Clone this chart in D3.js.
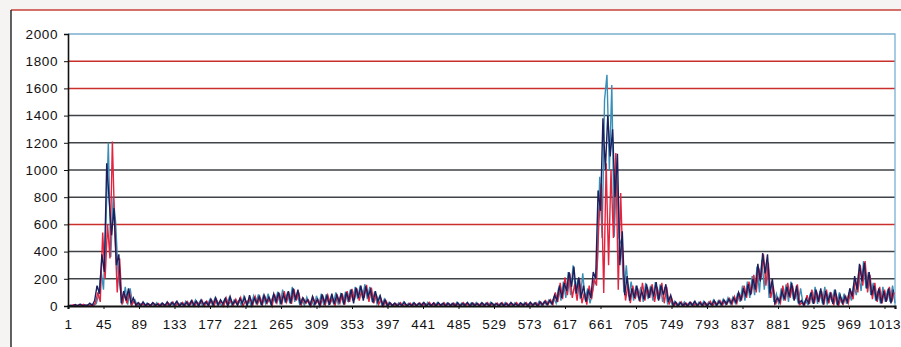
<!DOCTYPE html>
<html>
<head>
<meta charset="utf-8">
<script src="https://cdn.jsdelivr.net/npm/d3@7"></script>
<style>
  html, body { margin: 0; padding: 0; background: #f6f4f2; }
  svg { display: block; }
  .tick text { font-family: "Liberation Sans", Arial, sans-serif; }
</style>
</head>
<body>
<svg id="chart" width="901" height="347"></svg>
<script>
// Category axis: samples numbered 1..1026
const categoryCount = 1026;
const xTickLabels = [1, 45, 89, 133, 177, 221, 265, 309, 353, 397, 441, 485, 529, 573,
                     617, 661, 705, 749, 793, 837, 881, 925, 969, 1013];
const yTickValues = [0, 200, 400, 600, 800, 1000, 1200, 1400, 1600, 1800, 2000];

// Each series holds every third sample; first category of each series
const seriesFirstCategory = [1, 2, 3];
const seriesStep = 3;

const navySeries = [
  0, 6, 0, 10, 2, 14, 0, 8, 3, 20,
  5, 40, 150, 90, 380, 250, 1050, 780, 520, 720,
  300, 380, 20, 110, 40, 130, 20, 60, 5, 25,
  0, 30, 4, 18, 0, 25, 6, 14, 0, 22,
  3, 30, 0, 25, 8, 35, 0, 20, 5, 28,
  2, 40, 6, 35, 0, 45, 10, 30, 4, 50,
  8, 60, 5, 45, 15, 55, 0, 70, 12, 40,
  5, 55, 18, 65, 0, 80, 10, 60, 20, 70,
  5, 80, 25, 65, 10, 90, 30, 100, 15, 85,
  35, 110, 20, 130, 45, 120, 10, 60, 25, 45,
  5, 70, 15, 50, 0, 85, 20, 75, 8, 90,
  15, 80, 30, 95, 10, 100, 40, 120, 20, 135,
  60, 150, 40, 145, 70, 120, 25, 110, 30, 75,
  5, 45, 0, 25, 3, 22, 0, 18, 5, 28,
  0, 16, 4, 24, 0, 20, 6, 26, 0, 19,
  3, 23, 0, 25, 5, 20, 0, 22, 4, 18,
  0, 24, 2, 19, 6, 27, 0, 21, 3, 18,
  0, 25, 4, 20, 0, 23, 5, 18, 0, 22,
  4, 19, 0, 26, 3, 17, 0, 24, 5, 20,
  0, 28, 6, 22, 0, 30, 8, 35, 10, 40,
  15, 80, 40, 150, 60, 170, 110, 250, 140, 290,
  90, 210, 60, 150, 30, 120, 60, 250, 200, 850,
  700, 1380, 1000, 1400, 1100, 1300, 800, 1120, 300, 550,
  80, 220, 40, 130, 60, 150, 40, 110, 50, 160,
  60, 140, 70, 175, 40, 150, 80, 160, 30, 80,
  5, 30, 0, 25, 4, 20, 0, 28, 6, 35,
  0, 25, 5, 30, 0, 22, 8, 40, 3, 35,
  10, 45, 15, 50, 20, 60, 25, 100, 40, 130,
  70, 160, 80, 200, 120, 310, 180, 390, 240, 380,
  90, 200, 20, 60, 30, 110, 50, 140, 70, 170,
  40, 150, 20, 40, 5, 55, 20, 100, 15, 120,
  30, 130, 10, 110, 35, 90, 15, 120, 5, 80,
  20, 70, 30, 130, 70, 220, 120, 310, 180, 320,
  130, 250, 80, 150, 40, 130, 20, 110, 30, 130,
  20, 120
];

const redSeries = [
  0, 4, 10, 0, 8, 2, 12, 0, 9, 4,
  0, 25, 100, 30, 540, 200, 600, 350, 1210, 560,
  100, 350, 10, 90, 20, 110, 5, 40, 0, 22,
  4, 18, 0, 16, 5, 22, 0, 18, 2, 16,
  0, 24, 6, 30, 0, 22, 4, 26, 0, 32,
  5, 38, 0, 28, 10, 42, 0, 35, 8, 45,
  0, 48, 12, 35, 0, 60, 10, 42, 5, 50,
  15, 62, 0, 40, 20, 58, 5, 70, 15, 65,
  10, 70, 20, 55, 0, 85, 25, 95, 10, 110,
  30, 90, 15, 125, 40, 100, 5, 55, 20, 45,
  0, 60, 15, 45, 5, 70, 10, 80, 20, 55,
  5, 75, 20, 90, 10, 110, 30, 125, 45, 130,
  40, 120, 60, 155, 30, 135, 20, 85, 10, 50,
  0, 40, 5, 20, 0, 18, 3, 25, 0, 16,
  2, 22, 0, 18, 4, 24, 0, 20, 3, 26,
  0, 22, 4, 15, 0, 25, 2, 18, 0, 21,
  3, 16, 0, 25, 4, 17, 0, 22, 5, 19,
  0, 20, 3, 24, 0, 18, 4, 22, 0, 25,
  2, 22, 0, 20, 4, 25, 0, 18, 3, 24,
  0, 20, 5, 25, 0, 30, 8, 40, 10, 45,
  10, 100, 30, 170, 50, 210, 80, 240, 60, 160,
  40, 200, 20, 100, 10, 150, 50, 200, 150, 620,
  900, 95, 1050, 300, 1000, 500, 1125, 120, 830, 250,
  40, 160, 20, 150, 50, 130, 30, 170, 40, 140,
  60, 160, 30, 140, 50, 170, 20, 140, 10, 60,
  0, 25, 3, 30, 0, 22, 5, 26, 0, 20,
  4, 30, 0, 24, 6, 35, 0, 30, 10, 40,
  5, 35, 15, 55, 10, 70, 20, 90, 50, 150,
  60, 180, 90, 230, 100, 280, 200, 380, 150, 320,
  60, 150, 10, 60, 20, 150, 40, 170, 60, 150,
  50, 160, 10, 25, 5, 80, 15, 120, 20, 100,
  40, 110, 10, 120, 20, 100, 5, 90, 0, 60,
  15, 70, 20, 110, 50, 200, 100, 300, 150, 330,
  100, 230, 50, 170, 30, 140, 20, 120, 40, 140,
  30, 100
];

const tealSeries = [
  2, 0, 8, 3, 0, 10, 2, 7, 0, 12,
  3, 18, 80, 260, 120, 600, 1200, 360, 800, 620,
  250, 120, 20, 140, 10, 130, 20, 45, 0, 12,
  18, 0, 22, 4, 16, 0, 25, 3, 20, 0,
  12, 2, 26, 0, 30, 5, 24, 0, 35, 4,
  30, 0, 45, 8, 38, 0, 28, 10, 50, 5,
  55, 10, 25, 0, 50, 15, 65, 5, 45, 20,
  40, 5, 70, 15, 50, 0, 75, 20, 85, 10,
  75, 15, 90, 20, 70, 30, 105, 10, 120, 25,
  100, 20, 140, 30, 90, 15, 50, 5, 65, 10,
  40, 0, 75, 10, 90, 5, 85, 15, 65, 20,
  100, 10, 85, 25, 105, 30, 120, 40, 140, 50,
  150, 60, 160, 50, 140, 30, 105, 15, 70, 5,
  50, 0, 28, 3, 15, 0, 24, 2, 30, 0,
  20, 3, 25, 0, 18, 4, 22, 0, 28, 2,
  16, 0, 26, 3, 18, 0, 24, 4, 20, 0,
  27, 2, 22, 0, 18, 5, 24, 0, 26, 3,
  20, 0, 22, 4, 28, 0, 20, 3, 18, 0,
  26, 3, 18, 0, 24, 2, 20, 0, 26, 4,
  20, 0, 24, 5, 35, 3, 30, 10, 45, 15,
  60, 20, 130, 40, 180, 60, 250, 80, 300, 100,
  200, 50, 240, 40, 130, 20, 100, 200, 300, 950,
  500, 1515, 1700, 1000, 1625, 510, 1000, 500, 450, 100,
  300, 70, 180, 40, 150, 60, 140, 30, 170, 50,
  150, 40, 175, 50, 160, 30, 140, 20, 60, 5,
  35, 0, 28, 4, 30, 0, 25, 3, 30, 0,
  28, 5, 35, 0, 30, 6, 45, 2, 40, 8,
  50, 10, 60, 15, 65, 20, 95, 30, 150, 40,
  180, 60, 220, 80, 290, 100, 340, 120, 330, 60,
  180, 30, 90, 10, 130, 40, 160, 30, 180, 50,
  110, 20, 130, 15, 40, 10, 90, 20, 140, 15,
  110, 20, 140, 10, 100, 30, 120, 10, 100, 20,
  90, 15, 100, 40, 160, 80, 240, 110, 330, 130,
  250, 80, 170, 40, 110, 20, 140, 30, 120, 30,
  150, 20
];

const svg = d3.select("#chart");

// Outer chart frame
svg.append("rect")
  .attr("x", 11).attr("y", 10).attr("width", 900).attr("height", 400)
  .attr("fill", "#ffffff");
svg.append("line")
  .attr("x1", 11).attr("x2", 901).attr("y1", 10).attr("y2", 10)
  .attr("stroke", "#c8413a").attr("stroke-width", 1.6);
svg.append("line")
  .attr("x1", 11).attr("x2", 11).attr("y1", 10).attr("y2", 347)
  .attr("stroke", "#202020").attr("stroke-width", 1.4);

const plot = { left: 68, right: 895, top: 34, bottom: 306 };

const x = d3.scaleLinear().domain([1, categoryCount]).range([plot.left, plot.right]);
const y = d3.scaleLinear().domain([0, 2000]).range([plot.bottom, plot.top]);

// Horizontal gridlines
const redGrid = new Set([600, 1600, 1800]);
svg.append("g")
  .selectAll("line")
  .data(yTickValues.filter(v => v > 0 && v < 2000))
  .join("line")
  .attr("x1", plot.left).attr("x2", plot.right)
  .attr("y1", d => y(d)).attr("y2", d => y(d))
  .attr("stroke", d => redGrid.has(d) ? "#c9302c" : "#3f4246")
  .attr("stroke-width", 1.5);

// Plot-area border (top and right)
svg.append("path")
  .attr("d", `M${plot.left},${y(2000)}H${plot.right}V${plot.bottom}`)
  .attr("fill", "none")
  .attr("stroke", "#79b0cf")
  .attr("stroke-width", 1.3);

// Series lines
const toPoints = (values, k) =>
  values.map((v, j) => [seriesFirstCategory[k] + j * seriesStep, v]);

const line = d3.line().x(d => x(d[0])).y(d => y(d[1]));

const series = [
  { values: tealSeries, color: "#3a8fb8", k: 2 },
  { values: redSeries, color: "#e3243f", k: 1 },
  { values: navySeries, color: "#1c1f5c", k: 0 }
];

svg.append("g")
  .selectAll("path")
  .data(series)
  .join("path")
  .attr("d", s => line(toPoints(s.values, s.k)))
  .attr("fill", "none")
  .attr("stroke", s => s.color)
  .attr("stroke-width", 1.4)
  .attr("stroke-linejoin", "miter");

// Y axis
const yAxis = svg.append("g")
  .attr("transform", `translate(${plot.left},0)`)
  .call(d3.axisLeft(y).tickValues(yTickValues).tickSize(4).tickPadding(6).tickFormat(d3.format("d")));
yAxis.select(".domain").attr("stroke", "#111").attr("stroke-width", 1.6);
yAxis.selectAll(".tick line").attr("stroke", "#111");
yAxis.selectAll(".tick text")
  .attr("font-size", 13.5).attr("fill", "#111").attr("letter-spacing", 0.6);

// X axis
const xAxis = svg.append("g")
  .attr("transform", `translate(0,${plot.bottom})`)
  .call(d3.axisBottom(x).tickValues(xTickLabels).tickSize(3).tickPadding(10).tickFormat(d3.format("d")));
xAxis.select(".domain").attr("stroke", "#111").attr("stroke-width", 2.2);
xAxis.selectAll(".tick line").attr("stroke", "#111");
xAxis.selectAll(".tick text")
  .attr("font-size", 13.5).attr("fill", "#111").attr("letter-spacing", 0.6);
</script>
</body>
</html>
